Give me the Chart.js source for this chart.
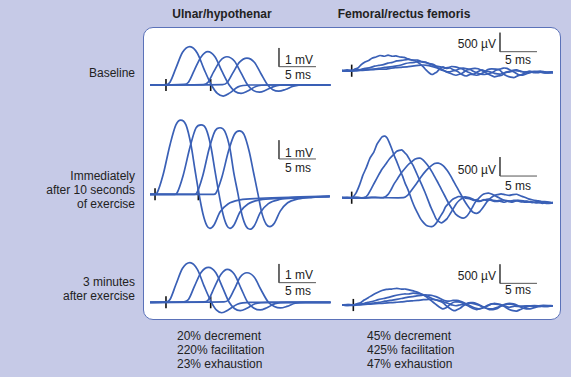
<!DOCTYPE html>
<html>
<head>
<meta charset="utf-8">
<script src="https://cdn.jsdelivr.net/npm/chart.js@4"></script>
<style>
body { margin: 0; background: #c6cae7; font-family: "Liberation Sans", Arial, sans-serif; color: #222; }
#fig { position: relative; width: 571px; height: 377px; overflow: hidden; }
.panel { position: absolute; left: 143px; top: 27px; width: 418px; height: 293px; background: #fff;
         border: 1.5px solid #5b72b9; border-radius: 10px; box-sizing: border-box; }
canvas { position: absolute; }
.t { position: absolute; font-size: 12px; line-height: 14px; white-space: nowrap; }
.c { transform: translateX(-50%); }
.r { text-align: right; }
.b { font-weight: bold; }
</style>
</head>
<body>
<div id="fig">
  <div class="panel"></div>

  <div class="t b c" style="left:222px;top:7px">Ulnar/hypothenar</div>
  <div class="t b c" style="left:404px;top:7px">Femoral/rectus femoris</div>

  <div class="t r" style="right:436px;top:66px">Baseline</div>
  <div class="t r" style="right:436px;top:169px">Immediately<br>after 10 seconds<br>of exercise</div>
  <div class="t r" style="right:436px;top:275px">3 minutes<br>after exercise</div>

  <div class="t" style="left:285px;top:53px">1 mV</div>
  <div class="t c" style="left:298px;top:68px">5 ms</div>
  <div class="t" style="left:285px;top:146px">1 mV</div>
  <div class="t c" style="left:298px;top:161px">5 ms</div>
  <div class="t" style="left:285px;top:268px">1 mV</div>
  <div class="t c" style="left:298px;top:284px">5 ms</div>

  <div class="t r" style="right:75px;top:37px">500 µV</div>
  <div class="t c" style="left:518px;top:53px">5 ms</div>
  <div class="t r" style="right:75px;top:163px">500 µV</div>
  <div class="t c" style="left:518px;top:179px">5 ms</div>
  <div class="t r" style="right:75px;top:269px">500 µV</div>
  <div class="t c" style="left:518px;top:283px">5 ms</div>

  <div class="t" style="left:177px;top:329px">20% decrement<br>220% facilitation<br>23% exhaustion</div>
  <div class="t" style="left:367px;top:329px">45% decrement<br>425% facilitation<br>47% exhaustion</div>
</div>

<script>
// traces are [ms, mV] pairs, 4 successive responses per panel
const ulnarBaseline = [
    [[0,0],[2.2,0.02],[2.7,0.15],[3.5,0.9],[4.4,1.75],[5.4,2.05],[6.4,1.7],[7.3,0.85],[8.3,0],[9.1,-0.45],[9.9,-0.59],[10.8,-0.42],[11.9,-0.1],[13.5,0],[24.4,0]],
    [[0,0],[4.6,0.03],[5.2,0.15],[6.0,0.8],[6.9,1.5],[7.8,1.78],[8.8,1.5],[9.7,0.75],[10.7,0],[11.5,-0.35],[12.3,-0.45],[13.2,-0.32],[14.3,-0.08],[16,0],[24.4,0]],
    [[0,0],[7.2,0.02],[7.8,0.13],[8.6,0.7],[9.5,1.3],[10.4,1.51],[11.4,1.28],[12.3,0.65],[13.2,0],[14.0,-0.3],[14.8,-0.38],[15.7,-0.27],[16.8,-0.07],[18.5,0],[24.4,0]],
    [[0,0],[9.8,0.02],[10.4,0.12],[11.2,0.65],[12.1,1.22],[13.1,1.44],[14.1,1.22],[15.0,0.6],[15.9,0],[16.6,-0.25],[17.4,-0.33],[18.3,-0.24],[19.4,-0.06],[21,0],[24.4,0]]
];
const ulnarAfter10s = [
    [[0,0],[0.7,0],[0.95,0.07],[1.76,1.03],[2.7,2.64],[3.5,3.71],[4.15,3.97],[4.86,3.71],[5.54,2.64],[6.08,1.3],[6.62,0.02],[7.16,-1.05],[7.7,-1.69],[8.1,-1.82],[8.65,-1.64],[9.46,-0.95],[10.54,-0.52],[12.16,-0.3],[14.86,-0.22],[20.3,-0.14],[24.3,-0.09]],
    [[0,0],[3.38,0],[3.65,0.07],[4.46,0.98],[5.41,2.53],[6.22,3.55],[6.9,3.71],[7.57,3.5],[8.24,2.53],[8.78,1.25],[9.32,0.02],[9.86,-1.05],[10.41,-1.69],[10.81,-1.82],[11.35,-1.64],[12.16,-0.95],[13.24,-0.52],[14.86,-0.3],[17.57,-0.22],[21.6,-0.14],[24.3,-0.12]],
    [[0,0],[6.0,0],[6.3,0.06],[7.1,0.95],[8.0,2.45],[8.8,3.4],[9.46,3.56],[10.1,3.38],[10.8,2.45],[11.3,1.2],[11.9,0],[12.4,-1.05],[13.0,-1.72],[13.5,-1.87],[14.1,-1.68],[14.9,-0.98],[16.0,-0.5],[17.5,-0.28],[20.0,-0.2],[24.3,-0.12]],
    [[0,0],[8.6,0],[8.9,0.06],[9.7,0.9],[10.6,2.3],[11.4,3.2],[12.07,3.39],[12.7,3.2],[13.4,2.3],[14.0,1.15],[14.6,0],[15.1,-0.98],[15.7,-1.6],[16.2,-1.73],[16.8,-1.55],[17.6,-0.9],[18.6,-0.45],[20.0,-0.25],[22.0,-0.16],[24.3,-0.1]]
];
const ulnar3min = [
    [[0,0],[2.2,0.02],[2.7,0.15],[3.5,0.95],[4.4,1.82],[5.4,2.12],[6.4,1.76],[7.3,0.88],[8.3,0],[9.0,-0.42],[9.7,-0.56],[10.6,-0.4],[11.8,-0.1],[13.5,0],[24.4,0]],
    [[0,0],[4.6,0.03],[5.2,0.15],[6.0,0.85],[6.9,1.6],[7.9,1.87],[8.9,1.58],[9.8,0.8],[10.7,0],[11.4,-0.33],[12.2,-0.45],[13.1,-0.32],[14.2,-0.08],[16,0],[24.4,0]],
    [[0,0],[7.3,0.02],[7.9,0.14],[8.7,0.8],[9.6,1.5],[10.45,1.76],[11.4,1.5],[12.3,0.75],[13.2,0],[14.0,-0.3],[14.9,-0.41],[15.8,-0.29],[16.9,-0.07],[18.5,0],[24.4,0]],
    [[0,0],[10.0,0.02],[10.6,0.12],[11.4,0.7],[12.2,1.35],[13.1,1.58],[14.1,1.34],[15.0,0.67],[16.0,0],[16.8,-0.22],[17.6,-0.3],[18.5,-0.22],[19.6,-0.05],[21,0],[24.4,0]]
];

const femoralBaseline = [
    [[0,0],[0.7,0.02],[1.35,0],[1.8,0.05],[2.16,0.07],[2.6,0.16],[3.11,0.23],[3.6,0.27],[4.05,0.33],[4.6,0.36],[5.14,0.4],[5.7,0.38],[6.22,0.41],[6.8,0.38],[7.3,0.39],[7.8,0.36],[8.38,0.35],[8.9,0.31],[9.46,0.28],[10,0.25],[10.54,0.18],[11,0.1],[11.35,0.02],[11.8,-0.06],[12.16,-0.1],[12.5,-0.07],[12.84,-0.03],[13.2,0.05],[13.65,0.1],[14.1,0.06],[14.6,0.07],[15.1,0.02],[15.68,-0.03],[16.2,-0.1],[16.76,-0.14],[17.3,-0.1],[17.84,-0.09],[18.4,-0.02],[18.92,0.02],[19.4,-0.01],[20,-0.03],[20.6,-0.07],[21.35,-0.09],[22,-0.05],[22.7,-0.03],[23.3,0],[24.05,-0.01],[24.7,-0.04],[25.4,-0.02],[26.1,-0.03],[26.8,-0.01],[27.6,-0.04],[28.5,-0.03]],
    [[0,0],[0.7,-0.01],[1.35,0],[1.9,0.02],[2.5,0.03],[3.1,0.06],[3.8,0.08],[4.4,0.12],[5.0,0.14],[5.6,0.16],[6.2,0.2],[6.8,0.22],[7.4,0.26],[8.1,0.27],[8.9,0.3],[9.5,0.28],[10.2,0.28],[10.8,0.24],[11.3,0.22],[11.9,0.17],[12.4,0.14],[13.0,0.07],[13.5,0.04],[14.0,-0.02],[14.5,-0.06],[15.0,-0.1],[15.4,-0.12],[15.9,-0.09],[16.3,-0.06],[16.8,0.01],[17.3,0.04],[17.9,0.06],[18.4,0.05],[19.0,-0.01],[19.5,-0.06],[20.1,-0.12],[20.6,-0.16],[21.1,-0.14],[21.6,-0.12],[22.1,-0.05],[22.6,-0.02],[23.1,0.01],[23.6,0.02],[24.2,-0.02],[24.8,-0.04],[25.6,-0.03],[26.5,-0.05],[27.4,-0.03],[28.5,-0.05]],
    [[0,0],[1.0,0.01],[2.0,0],[2.8,0.02],[3.5,0.03],[4.3,0.04],[5.0,0.06],[5.8,0.09],[6.5,0.1],[7.2,0.12],[8.0,0.15],[8.6,0.19],[9.2,0.21],[9.8,0.22],[10.3,0.24],[10.8,0.23],[11.3,0.22],[11.8,0.19],[12.3,0.17],[12.8,0.12],[13.3,0.1],[13.8,0.07],[14.3,0.08],[14.8,0.11],[15.3,0.1],[15.7,0.08],[16.2,0.05],[16.7,-0.01],[17.2,-0.05],[17.7,-0.1],[18.2,-0.12],[18.7,-0.09],[19.2,-0.04],[19.7,0.03],[20.2,0.05],[20.8,0.04],[21.3,0.02],[21.8,-0.08],[22.3,-0.14],[22.8,-0.17],[23.3,-0.18],[23.8,-0.13],[24.3,-0.1],[24.8,-0.05],[25.3,-0.02],[26.0,-0.05],[26.8,-0.04],[27.6,-0.06],[28.5,-0.05]],
    [[0,0],[1.0,-0.01],[2.0,0],[2.8,0.01],[3.5,0.02],[4.3,0.03],[5.0,0.04],[5.8,0.04],[6.5,0.06],[7.2,0.08],[8.0,0.09],[8.8,0.1],[9.5,0.12],[10.3,0.14],[11.0,0.15],[11.5,0.14],[12.0,0.12],[12.5,0.09],[13.0,0.06],[13.4,0.02],[13.8,0],[14.2,-0.03],[14.6,-0.03],[15.1,0],[15.5,0.02],[16.0,0.06],[16.4,0.07],[16.9,0.05],[17.3,0.03],[17.8,-0.02],[18.3,-0.06],[18.8,-0.09],[19.3,-0.1],[19.8,-0.08],[20.3,-0.05],[20.8,0.01],[21.3,0.04],[21.8,0.07],[22.3,0.06],[22.8,0.01],[23.3,-0.04],[23.8,-0.1],[24.3,-0.12],[24.8,-0.09],[25.3,-0.06],[26.0,-0.02],[26.8,-0.03],[27.6,-0.06],[28.5,-0.05]]
];
const femoralAfter10s = [
    [[0,0],[0.7,0.01],[1.35,0],[1.89,0.12],[2.4,0.35],[2.84,0.6],[3.3,0.8],[3.78,1.04],[4.3,1.2],[4.73,1.41],[5.1,1.52],[5.41,1.6],[5.81,1.62],[6.1,1.57],[6.35,1.47],[6.7,1.3],[7.03,1.12],[7.4,0.95],[7.84,0.73],[8.2,0.56],[8.51,0.39],[8.9,0.22],[9.19,0.07],[9.5,-0.1],[9.86,-0.27],[10.2,-0.4],[10.54,-0.53],[10.9,-0.63],[11.35,-0.72],[11.7,-0.75],[12.12,-0.76],[12.5,-0.72],[12.84,-0.64],[13.2,-0.52],[13.65,-0.38],[14.0,-0.24],[14.46,-0.14],[14.9,-0.05],[15.27,-0.01],[15.7,0.03],[16.22,0.02],[16.7,-0.01],[17.3,-0.03],[17.8,-0.07],[18.2,-0.05],[18.65,-0.09],[19.2,-0.05],[19.6,-0.08],[20.0,-0.06],[20.6,-0.1],[21.35,-0.09],[21.9,-0.12],[22.4,-0.09],[23.0,-0.12],[23.6,-0.08],[24.3,-0.11],[25.0,-0.09],[25.7,-0.13],[26.4,-0.11],[27.1,-0.15],[27.8,-0.12],[28.5,-0.14]],
    [[0,0],[1.0,-0.01],[2.0,0.01],[3.0,0],[3.5,0.08],[4.0,0.25],[4.4,0.4],[4.9,0.58],[5.4,0.75],[5.9,0.88],[6.4,1.02],[6.9,1.12],[7.4,1.22],[8.07,1.26],[8.4,1.2],[8.8,1.12],[9.2,0.98],[9.6,0.85],[10.0,0.68],[10.4,0.5],[10.8,0.33],[11.2,0.15],[11.6,-0.05],[12.0,-0.25],[12.4,-0.42],[12.7,-0.55],[13.1,-0.63],[13.47,-0.66],[13.8,-0.62],[14.2,-0.55],[14.6,-0.43],[15.0,-0.3],[15.4,-0.17],[15.8,-0.08],[16.2,-0.02],[16.6,0.02],[17.0,0.01],[17.5,-0.02],[18.0,-0.07],[18.6,-0.1],[19.2,-0.06],[19.8,-0.04],[20.4,-0.07],[21.0,-0.08],[21.7,-0.06],[22.5,-0.1],[23.2,-0.07],[24.0,-0.08],[24.8,-0.12],[25.5,-0.1],[26.2,-0.14],[27.0,-0.12],[27.7,-0.15],[28.5,-0.14]],
    [[0,0],[1.5,0.01],[3.0,-0.01],[4.5,0.01],[5.6,0],[6.2,0.08],[6.6,0.2],[7.0,0.35],[7.5,0.5],[8.0,0.65],[8.5,0.77],[9.0,0.88],[9.5,0.96],[9.9,1.02],[10.54,1.04],[10.9,1.0],[11.3,0.92],[11.7,0.82],[12.1,0.7],[12.5,0.56],[12.9,0.42],[13.3,0.27],[13.7,0.12],[14.1,-0.03],[14.5,-0.18],[15.0,-0.33],[15.4,-0.44],[15.9,-0.51],[16.39,-0.54],[16.8,-0.5],[17.2,-0.4],[17.6,-0.26],[18.0,-0.12],[18.5,-0.01],[19.0,0.08],[19.4,0.11],[19.8,0.12],[20.3,0.09],[20.8,0.04],[21.3,-0.01],[21.8,-0.06],[22.4,-0.08],[23.0,-0.1],[23.7,-0.07],[24.5,-0.08],[25.2,-0.11],[26.0,-0.12],[26.8,-0.1],[27.6,-0.14],[28.5,-0.13]],
    [[0,0],[2.0,-0.01],[4.0,0.01],[6.0,0],[8.3,0],[8.9,0.07],[9.3,0.17],[9.8,0.3],[10.3,0.44],[10.8,0.58],[11.3,0.7],[11.8,0.8],[12.5,0.9],[13.01,0.91],[13.4,0.88],[13.8,0.82],[14.2,0.72],[14.6,0.6],[15.0,0.46],[15.4,0.32],[15.8,0.18],[16.2,0.04],[16.6,-0.1],[17.0,-0.22],[17.4,-0.32],[17.7,-0.38],[18.2,-0.41],[18.6,-0.37],[18.9,-0.3],[19.3,-0.19],[19.7,-0.08],[20.2,0.01],[20.6,0.06],[21.0,0.08],[21.5,0.1],[22.0,0.08],[22.6,0.06],[23.1,0.08],[23.6,0.09],[24.1,0.05],[24.6,0.02],[25.2,-0.03],[25.8,-0.06],[26.4,-0.08],[27.0,-0.1],[27.7,-0.11],[28.5,-0.13]]
];
const femoral3min = [
    [[0,0],[0.8,0.01],[1.5,0],[2.0,0.03],[2.5,0.06],[3.0,0.13],[3.6,0.2],[4.2,0.27],[4.8,0.33],[5.4,0.38],[6.0,0.41],[6.7,0.42],[7.4,0.44],[8.0,0.42],[8.6,0.42],[9.2,0.39],[9.8,0.36],[10.4,0.32],[11.0,0.26],[11.5,0.2],[12.0,0.12],[12.4,0.06],[12.8,0],[13.2,-0.06],[13.6,-0.1],[14.0,-0.08],[14.3,-0.04],[14.7,0.03],[15.2,0.08],[15.7,0.08],[16.2,0.06],[16.7,0.01],[17.2,-0.04],[17.7,-0.09],[18.2,-0.12],[18.7,-0.1],[19.2,-0.06],[19.7,-0.01],[20.2,0.03],[20.8,0.02],[21.4,0],[22.0,-0.03],[22.6,-0.06],[23.3,-0.03],[24.0,-0.04],[25.0,-0.02],[26.0,-0.03],[27.2,-0.01],[28.5,-0.02]],
    [[0,0],[0.8,-0.01],[1.5,0],[2.2,0.02],[2.8,0.03],[3.5,0.07],[4.2,0.1],[4.9,0.14],[5.6,0.17],[6.3,0.2],[7.0,0.24],[7.7,0.27],[8.4,0.29],[9.0,0.29],[9.6,0.31],[10.2,0.3],[10.8,0.28],[11.4,0.24],[11.9,0.2],[12.4,0.15],[12.9,0.12],[13.3,0.09],[13.7,0.05],[14.1,-0.02],[14.5,-0.08],[14.9,-0.13],[15.3,-0.15],[15.6,-0.12],[16.0,-0.08],[16.4,-0.02],[16.9,0.04],[17.4,0.06],[17.9,0.06],[18.4,0.02],[18.9,-0.03],[19.4,-0.08],[19.9,-0.12],[20.4,-0.12],[20.9,-0.1],[21.4,-0.04],[21.9,0],[22.4,0.02],[23.0,0.02],[23.7,-0.02],[24.5,-0.04],[25.5,-0.02],[26.5,-0.02],[27.5,-0.04],[28.5,-0.02]],
    [[0,0],[1.0,0.01],[2.0,0],[2.8,0.02],[3.5,0.03],[4.2,0.05],[5.0,0.07],[5.8,0.1],[6.5,0.12],[7.2,0.14],[8.0,0.17],[8.8,0.2],[9.5,0.22],[10.1,0.24],[10.7,0.25],[11.2,0.27],[11.7,0.26],[12.2,0.25],[12.7,0.22],[13.2,0.18],[13.6,0.14],[14.0,0.11],[14.5,0.1],[15.0,0.12],[15.5,0.12],[16.0,0.1],[16.5,0.06],[17.0,0.01],[17.5,-0.04],[18.0,-0.08],[18.5,-0.1],[19.0,-0.08],[19.5,-0.04],[20.0,0.01],[20.5,0.04],[21.0,0.03],[21.6,0],[22.1,-0.06],[22.6,-0.12],[23.1,-0.15],[23.6,-0.16],[24.1,-0.12],[24.6,-0.08],[25.2,-0.04],[25.8,-0.02],[26.4,-0.04],[27.0,-0.03],[27.7,-0.04],[28.5,-0.02]],
    [[0,0],[1.0,-0.01],[2.0,0],[2.8,0.01],[3.5,0.02],[4.2,0.03],[5.0,0.04],[5.8,0.05],[6.5,0.06],[7.2,0.07],[8.0,0.08],[8.8,0.1],[9.5,0.11],[10.2,0.12],[11.0,0.14],[11.7,0.15],[12.3,0.15],[12.9,0.13],[13.4,0.11],[13.9,0.07],[14.4,0.04],[14.9,0],[15.4,-0.02],[15.9,0],[16.4,0.02],[16.9,0.04],[17.4,0.05],[17.9,0.03],[18.4,0],[18.9,-0.04],[19.4,-0.08],[19.9,-0.1],[20.4,-0.1],[20.9,-0.07],[21.4,-0.03],[21.9,0.01],[22.4,0.04],[22.9,0.04],[23.4,0.02],[23.9,-0.03],[24.4,-0.08],[24.9,-0.1],[25.4,-0.1],[26.0,-0.07],[26.6,-0.04],[27.5,-0.03],[28.5,-0.02]]
];

// stimulus marks (ms)
const ulnarStim = [2.16, 8.2];
const ulnarStimAfter = [0.68, 6.53];
const femoralStim = [1.31];
const femoralStim3min = [1.53];

// calibration bars: 5 ms x 1 mV (ulnar), 5 ms x 500 µV (femoral)
const barMs = 5;
const ulnarBarMv = 1;
const femoralBarMv = 0.5;

const LINE = "#3a60b6";

// pixel layout of each panel
const ulnarLay = { left: 143, w: 192, x0: 150, pxMs: 7.4, pxMv: 18.7, tick: 0.32, smooth: "monotone" };
const femLay = { left: 338, w: 222, x0: 342, pxMs: 7.4, pxMv: 38, tick: 0.16, smooth: "default" };
const rows = [
    { top: 30, h: 80 },
    { top: 112, h: 130 },
    { top: 250, h: 68 }
];

function drawPanel(lay, row, y0, traces, stims, barMv, barAt) {
    let cv = document.createElement("canvas");
    cv.width = lay.w;
    cv.height = row.h;
    cv.style.left = lay.left + "px";
    cv.style.top = row.top + "px";
    document.getElementById("fig").appendChild(cv);

    let datasets = traces.map((tr) => ({
        data: tr.map((p) => ({ x: p[0], y: p[1] })),
        borderColor: LINE,
        borderWidth: 1.7,
        cubicInterpolationMode: lay.smooth,
        tension: 0.15
    }));
    stims.forEach((s) => {
        datasets.push({
            data: [{ x: s, y: -lay.tick }, { x: s, y: lay.tick }],
            borderColor: "#111",
            borderWidth: 1.6
        });
    });
    datasets.push({
        data: [
            { x: barAt[0], y: barAt[1] + barMv },
            { x: barAt[0], y: barAt[1] },
            { x: barAt[0] + barMs, y: barAt[1] }
        ],
        borderColor: "#555",
        borderWidth: 1
    });

    new Chart(cv, {
        type: "scatter",
        data: { datasets: datasets },
        options: {
            responsive: false,
            animation: false,
            showLine: true,
            elements: { point: { radius: 0 } },
            layout: { padding: 0 },
            plugins: { legend: { display: false }, tooltip: { enabled: false } },
            scales: {
                x: {
                    display: false,
                    min: (lay.left - lay.x0) / lay.pxMs,
                    max: (lay.left + lay.w - lay.x0) / lay.pxMs
                },
                y: {
                    display: false,
                    min: (y0 - row.top - row.h) / lay.pxMv,
                    max: (y0 - row.top) / lay.pxMv
                }
            }
        }
    });
}

drawPanel(ulnarLay, rows[0], 85, ulnarBaseline, ulnarStim, ulnarBarMv, [17.43, 0.98]);
drawPanel(ulnarLay, rows[1], 194.3, ulnarAfter10s, ulnarStimAfter, ulnarBarMv, [17.43, 1.89]);
drawPanel(ulnarLay, rows[2], 302.3, ulnar3min, ulnarStim, ulnarBarMv, [17.43, 1.05]);
drawPanel(femLay, rows[0], 70.7, femoralBaseline, femoralStim, femoralBarMv, [21.35, 0.5]);
drawPanel(femLay, rows[1], 197.7, femoralAfter10s, femoralStim, femoralBarMv, [21.35, 0.57]);
drawPanel(femLay, rows[2], 305, femoral3min, femoralStim3min, femoralBarMv, [21.35, 0.57]);
</script>
</body>
</html>
